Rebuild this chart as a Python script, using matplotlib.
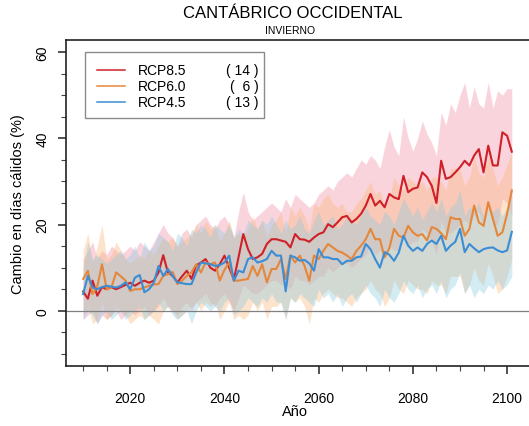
import matplotlib
matplotlib.use('Agg')
import matplotlib.pyplot as plt
from matplotlib.patches import Rectangle
import numpy as np

# years of the series
years = np.arange(2010, 2102)

# ensemble means (cambio en dias calidos, %)
rcp85 = [4.5, 2.8, 7.0, 3.5, 5.5, 5.0, 5.5, 5.0, 5.5, 6.0,
         6.5, 5.8, 6.5, 7.0, 6.5, 7.0, 8.9, 12.9, 8.9, 8.1,
         6.6, 8.0, 9.3, 7.4, 10.5, 11.2, 12.0, 10.0, 9.3, 10.8,
         12.8, 10.0, 7.2, 12.5, 17.8, 14.3, 12.0, 12.4, 13.2, 15.5,
         16.6, 16.6, 16.3, 16.0, 14.7, 17.8, 16.6, 16.5, 16.0, 17.0,
         17.8, 18.2, 20.1, 19.4, 20.5, 21.7, 22.0, 20.5, 21.3, 22.5,
         24.4, 27.1, 24.4, 25.5, 24.0, 27.1, 26.3, 25.9, 31.3, 27.5,
         28.3, 28.6, 32.1, 31.0, 29.0, 25.0, 34.8, 30.6, 31.0, 32.1,
         33.3, 34.8, 33.7, 36.0, 37.5, 32.1, 38.3, 33.7, 33.7, 41.4,
         40.6, 36.9]
rcp60 = [7.4, 9.3, 3.9, 5.6, 10.8, 5.0, 5.4, 8.9, 8.0, 7.0,
         4.6, 5.0, 5.0, 5.4, 5.8, 6.1, 6.2, 8.1, 8.5, 9.0,
         6.2, 7.0, 8.1, 8.9, 10.8, 8.9, 11.2, 10.8, 11.2, 7.0,
         9.5, 11.2, 7.0, 7.0, 7.2, 7.4, 10.4, 8.1, 10.8, 6.6,
         9.7, 9.7, 12.0, 7.4, 12.8, 11.2, 12.8, 10.4, 7.0, 12.8,
         12.0, 13.9, 15.5, 14.7, 13.9, 13.5, 12.8, 12.0, 13.9, 15.1,
         16.6, 19.0, 16.6, 16.6, 12.4, 14.5, 19.0, 17.4, 17.0, 19.7,
         18.2, 17.4, 17.8, 16.3, 19.4, 19.0, 18.0, 16.6, 21.7, 21.3,
         21.3, 17.4, 19.0, 24.4, 20.5, 19.7, 25.2, 21.3, 17.4, 18.2,
         22.5, 27.9]
rcp45 = [3.9, 8.1, 5.4, 5.0, 5.5, 5.8, 5.6, 5.4, 5.8, 6.6,
         5.0, 7.7, 8.3, 4.3, 5.0, 6.5, 10.4, 8.1, 9.7, 8.1,
         6.6, 6.4, 6.2, 6.2, 8.9, 11.2, 11.0, 10.8, 10.4, 10.6,
         11.2, 12.8, 7.0, 9.3, 8.9, 12.0, 12.4, 11.2, 11.5, 12.0,
         13.9, 12.8, 12.8, 4.5, 12.8, 12.4, 11.6, 11.8, 11.0, 9.3,
         14.3, 12.4, 12.4, 12.0, 12.0, 10.8, 11.6, 11.6, 12.4, 12.6,
         15.5, 14.3, 12.0, 10.0, 13.6, 13.0, 11.6, 13.5, 17.4, 15.1,
         13.9, 14.7, 13.9, 15.5, 16.3, 15.5, 17.4, 13.9, 15.1, 16.0,
         19.0, 13.6, 15.5, 14.5, 13.6, 14.3, 14.6, 14.7, 14.0, 13.6,
         14.0, 18.3]

# ensemble spread (upper / lower)
rcp85_hi = [12, 14, 16, 12, 14, 13, 15, 14, 13, 14,
            15, 14, 16, 15, 14, 16, 18, 20, 18, 17,
            15, 18, 19, 17, 20, 21, 22, 20, 19, 21,
            22, 20, 17, 23, 27.5, 23, 21, 22, 23, 24,
            25, 24, 23, 26, 24, 27, 26, 25, 24, 25,
            27, 28, 29, 28, 30, 31, 32, 31, 33, 35,
            34, 36, 35, 33, 38, 42, 38, 36, 45, 40,
            37, 40, 44, 41, 39, 36, 46, 43, 48, 46,
            50, 53, 47, 52, 48, 47, 53, 47, 51, 50,
            51.5, 51.5]
rcp85_lo = [-2, -1, 0, -3, -1, -2, -1, 0, -2, -1,
            0, -1, 0, 1, -1, 0, 1, 3, 1, 0,
            -1, 1, 2, 0, 2, 3, 4, 2, 1, 3,
            4, 2, 0, 3, 6, 5, 4, 4, 5, 6,
            7, 7, 6, 6, 5, 8, 7, 7, 6, 7,
            8, 8, 10, 9, 10, 11, 11, 10, 11, 12,
            13, 15, 13, 14, 12, 15, 14, 14, 18, 15,
            16, 16, 19, 18, 16, 13, 21, 18, 18, 19,
            20, 21, 20, 22, 23, 19, 24, 20, 20, 26,
            25, 22]
rcp60_hi = [14, 18, 11, 15, 20, 12, 13, 16, 14, 12,
            11, 12, 13, 12, 14, 13, 15, 17, 16, 17,
            15, 16, 17, 18, 20, 18, 21, 19, 20, 16,
            18, 21, 17, 18, 17, 19, 22, 19, 21, 17,
            20, 21, 23, 18, 24, 22, 24, 22, 19, 25,
            24, 26, 27, 25, 24, 25, 23, 23, 25, 26,
            28, 30, 27, 28, 24, 26, 31, 29, 28, 31,
            30, 29, 30, 28, 31, 31, 30, 28, 33, 33,
            33, 29, 31, 36, 32, 31, 36, 33, 29, 31,
            34, 37]
rcp60_lo = [-1, 1, -3, -2, 2, -2, -1, 1, 0, -1,
            -3, -2, -1, -2, -1, -2, -3, 0, 1, 0,
            -2, -1, 0, 1, 2, 0, 2, 1, 2, -2,
            0, 2, -2, -1, -2, -1, 2, 0, 2, -2,
            1, 1, 2, -2, 3, 2, 3, 1, -3, 3,
            2, 4, 5, 4, 3, 3, 2, 1, 3, 4,
            5, 7, 5, 4, 1, 3, 7, 5, 4, 7,
            6, 5, 5, 4, 7, 6, 6, 4, 8, 8,
            8, 4, 6, 10, 7, 6, 11, 8, 4, 5,
            8, 12]
rcp45_hi = [10, 16, 12, 13, 12, 11, 12, 13, 14, 12,
            13, 15, 12, 16, 14, 15, 18, 17, 16, 14,
            18, 17, 15, 19, 18, 20, 19, 17, 20, 19,
            18, 20, 17, 19, 18, 21, 20, 19, 21, 20,
            22, 20, 18, 21, 19, 20, 22, 19, 18, 21,
            23, 20, 21, 22, 19, 20, 22, 21, 20, 22,
            24, 22, 21, 20, 23, 22, 20, 23, 26, 24,
            22, 24, 21, 23, 25, 23, 26, 22, 24, 25,
            28, 22, 24, 23, 25, 22, 24, 23, 24, 22,
            24, 27]
rcp45_lo = [-2, 0, -1, -3, -1, 0, -2, -1, 0, -2,
            -1, 0, 1, -2, -1, 0, 2, 0, 1, -1,
            -2, -1, 0, -3, 0, 2, 1, 0, 1, 0,
            2, 3, -1, 0, 1, 3, 2, 1, 3, 2,
            4, 2, 2, -2, 3, 2, 4, 3, 2, 1,
            5, 3, 4, 2, 4, 1, 3, 4, 2, 4,
            6, 4, 3, 1, 5, 3, 2, 4, 7, 5,
            4, 6, 3, 5, 6, 4, 7, 3, 5, 6,
            9, 4, 6, 3, 5, 4, 6, 5, 7, 5,
            6, 8]

labels = ['RCP8.5', 'RCP6.0', 'RCP4.5']
n_models = [14, 6, 13]

line_cols = ['#cf2027', '#e5873a', '#3b8dd5']
band_cols = ['#f4a0b4', '#fbb77a', '#8ccbe0']

plt.rcParams['font.family'] = ['Liberation Sans', 'DejaVu Sans']

fig = plt.figure(figsize=(5.29, 4.27), dpi=100)
ax = fig.add_axes([66/529, 60/427, 463/529, 326/427])

# bands
ax.fill_between(years, rcp85_lo, rcp85_hi, color=band_cols[0], alpha=0.45, lw=0)
ax.fill_between(years, rcp60_lo, rcp60_hi, color=band_cols[1], alpha=0.38, lw=0)
ax.fill_between(years, rcp45_lo, rcp45_hi, color=band_cols[2], alpha=0.38, lw=0)

ax.axhline(0, color='#808080', lw=0.9)

ax.plot(years, rcp85, color=line_cols[0], lw=1.5)
ax.plot(years, rcp60, color=line_cols[1], lw=1.5)
ax.plot(years, rcp45, color=line_cols[2], lw=1.5)

ax.set_xlim(2006.36, 2104.65)
ax.set_ylim(-12.8, 62.8)

ax.xaxis.set_major_locator(plt.MultipleLocator(20))
ax.xaxis.set_minor_locator(plt.FixedLocator(np.arange(2010, 2101, 5)))
ax.yaxis.set_major_locator(plt.FixedLocator([0, 20, 40, 60]))
ax.yaxis.set_minor_locator(plt.FixedLocator(np.arange(-10, 61, 5)))
ax.set_xticks([2020, 2040, 2060, 2080, 2100])
ax.tick_params(axis='both', which='major', length=6, width=1.1, labelsize=10, color='#222222')
ax.tick_params(axis='both', which='minor', length=3.5, width=0.8, color='#444444')
ax.tick_params(axis='x', which='major', pad=12)
ax.tick_params(axis='y', which='major', pad=6)
for lab in ax.get_yticklabels():
    lab.set_rotation(90)
    lab.set_va('center')

for s in ['left', 'bottom', 'top']:
    ax.spines[s].set_linewidth(1.2)
    ax.spines[s].set_color('#222222')
ax.spines['right'].set_visible(False)

# legend drawn by hand
ax.add_patch(Rectangle((0.041, 0.761), 0.3867, 0.202, transform=ax.transAxes,
                       facecolor='white', edgecolor='#8a8a8a', lw=1.0, zorder=5))
rows = [0.908, 0.860, 0.811]
for i in range(3):
    ax.plot([0.066, 0.127], [rows[i], rows[i]], transform=ax.transAxes,
            color=line_cols[i], lw=1.1, zorder=6)
    ax.text(0.156, rows[i], labels[i], transform=ax.transAxes, fontsize=10,
            va='center', ha='left', zorder=6)
    ax.text(0.4155, rows[i], '( %2d )' % n_models[i] if n_models[i] > 9 else '(  %d )' % n_models[i],
            transform=ax.transAxes, fontsize=10, va='center', ha='right', zorder=6)

fig.text(293/529, 1 - 14/427, 'CANTÁBRICO OCCIDENTAL', ha='center', va='center', fontsize=12)
fig.text(290/529, 1 - 30.5/427, 'INVIERNO', ha='center', va='center', fontsize=7.5)
fig.text(295/529, 1 - 412/427, 'Año', ha='center', va='center', fontsize=10.5)
fig.text(18/529, 1 - 204/427, 'Cambio en días cálidos (%)', ha='center', va='center',
         rotation=90, fontsize=10.5)

fig.savefig('out.png', dpi=100)
